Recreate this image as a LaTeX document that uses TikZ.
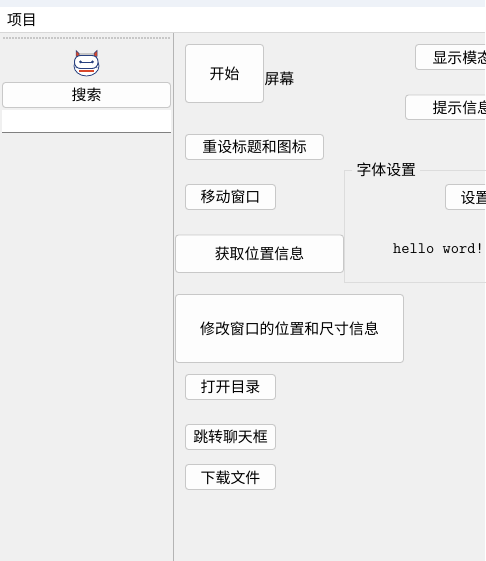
\documentclass[tikz,border=0pt]{standalone}
\usepackage{fontspec}
\newfontfamily\cjk{Noto Sans CJK SC}
\definecolor{panelbg}{HTML}{F0F0F0}
\definecolor{stripbg}{HTML}{EEF2F8}
\definecolor{btnedge}{HTML}{C8C8C8}
\definecolor{btnfill}{HTML}{FDFDFD}
\definecolor{groupedge}{HTML}{DCDCDC}
\definecolor{splitline}{HTML}{B4B4B4}
\definecolor{navy}{HTML}{27407F}
\definecolor{iconred}{HTML}{D8472B}
\tikzset{
  x=1pt,y=-1pt,
  uitext/.style={font=\cjk\fontsize{14.9}{15}\selectfont,text=black,inner sep=0pt,outer sep=0pt},
  btnface/.style={draw=btnedge,line width=0.9pt,fill=btnfill,rounded corners=3pt},
}
\newcommand{\uibutton}[6]{% name, x0, y0, x1, y1, text
  \draw[btnface] (#2,#3) rectangle (#4,#5);
  \node[uitext] (#1) at ({(#2+#4)/2},{(#3+#5)/2+0.3}) {#6};
}
\begin{document}
\begin{tikzpicture}
\useasboundingbox (0,0) rectangle (485,561);
\fill[panelbg] (0,0) rectangle (485,561);
\fill[stripbg] (0,0) rectangle (485,7);
\fill[white] (0,7) rectangle (485,32);
\draw[panelbg!90!black,line width=0.6pt] (0,32.5) -- (485,32.5);
\node[uitext,anchor=west] (menu) at (7,20) {项目};
% sidebar
\draw[splitline,line width=1pt] (173.5,33) -- (173.5,561);
\draw[black!22,line width=1.5pt,dash pattern=on 2pt off 1pt] (3,38) -- (170,38);
% icon
\draw[navy,line width=0.8pt,fill=white] (86.5,66) ellipse (12.5 and 10);
\fill[black!22] (79,53) rectangle (94,56);
\fill[iconred,draw=navy,line width=0.5pt] (76,56.5) -- (76,50.5) -- (79,53.5) -- (79,56.5) -- cycle;
\fill[iconred,draw=navy,line width=0.5pt] (97,56.5) -- (97,50.5) -- (94,53.5) -- (94,56.5) -- cycle;
\fill[iconred] (79,70) rectangle (94,72.5);
\draw[navy,line width=0.7pt] (76,68) arc[start angle=180,end angle=360,x radius=10.5,y radius=6];
\draw[navy,line width=0.9pt,fill=white,rounded corners=6pt] (74.5,55.5) rectangle (98,68.5);
\draw[navy,line width=0.9pt] (80.5,62) -- (92.5,62);
\fill[navy] (80.5,62) circle (1.5) (92.5,62) circle (1.5);
\uibutton{search}{2.5}{82.5}{170.5}{107.5}{搜索}
\fill[white] (2,110) rectangle (171,132);
\draw[black!50,line width=1pt] (2,132.5) -- (171,132.5);
% main buttons
\uibutton{start}{185.5}{44.5}{263.5}{102.5}{开始}
\node[uitext,anchor=west] (screen) at (264.5,78.5) {屏幕};
\uibutton{reset}{185.5}{134.5}{323.5}{159.5}{重设标题和图标}
\uibutton{move}{185.5}{184.5}{275.5}{209.5}{移动窗口}
\uibutton{getpos}{175.5}{235}{343.5}{272.5}{获取位置信息}
\uibutton{modify}{175.5}{294.5}{403.5}{362.5}{修改窗口的位置和尺寸信息}
\uibutton{opendir}{185.5}{374.5}{275.5}{399.5}{打开目录}
\uibutton{chat}{185.5}{424.5}{275.5}{449.5}{跳转聊天框}
\uibutton{download}{185.5}{464.5}{275.5}{489.5}{下载文件}
% group box
\draw[groupedge,line width=0.9pt] (352,170.5) -- (344.5,170.5) -- (344.5,282.5) -- (490,282.5);
\draw[groupedge,line width=0.9pt] (420,170.5) -- (490,170.5);
\node[uitext,anchor=west] (fontgroup) at (356.5,170) {字体设置};
% right-hand buttons, running past the window edge as in the reference
\begin{scope}
\clip (0,0) rectangle (485,561);
\draw[btnface] (415.5,44.5) rectangle (520,69.5);
\node[uitext,anchor=west] (modal) at (432.5,57.5) {显示模态};
\draw[btnface] (405.5,95) rectangle (520,119.5);
\node[uitext,anchor=west] (tip) at (432.5,107.5) {提示信息};
\draw[btnface] (445.5,184.5) rectangle (520,209.5);
\node[uitext,anchor=west] (setbtn) at (460.5,197.5) {设置};
\end{scope}
\node[anchor=west,inner sep=0pt,font=\ttfamily\fontsize{16}{16}\selectfont] (hello) at (393,249) {hello word!};
\end{tikzpicture}
\end{document}
